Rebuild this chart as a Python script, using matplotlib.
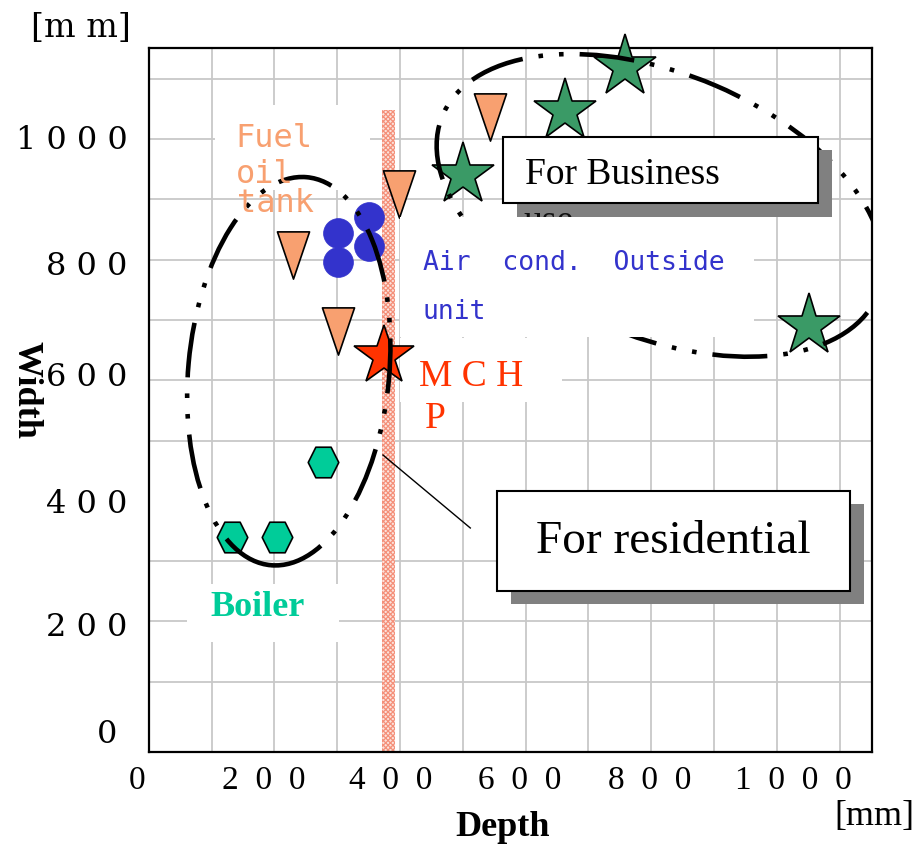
import matplotlib
matplotlib.use("Agg")
import matplotlib.pyplot as plt
from matplotlib.patches import Ellipse, Rectangle
from matplotlib.path import Path
import numpy as np

# ---------------- data (mm) ----------------
business_depth = [758, 662, 500, 1052]
business_width = [1119, 1047, 940, 690]

tank_depth = [544, 398, 229, 301]
tank_width = [1037, 909, 808, 681]

aircon_depth = [350, 301, 350, 302]
aircon_width = [871, 845, 822, 796]

mchp_depth = [375]
mchp_width = [641]

boiler_depth = [277, 132, 205]
boiler_width = [465, 340, 340]

x_tick_labels = ["0", "2  0  0", "4  0  0", "6  0  0", "8  0  0", "1  0  0  0"]
x_tick_pos = [-19, 183, 386, 591, 798, 1027]
y_tick_labels = ["0 ", "2 0 0", "4 0 0", "6 0 0", "8 0 0", "1 0 0 0"]
y_tick_pos = [18, 195, 400, 610, 795, 1004]

# hatched MCHP depth band
band_left, band_right, band_top = 372, 392, 1048

# ---------------- figure ----------------
W, H = 916, 847
fig = plt.figure(figsize=(W / 100, H / 100), dpi=100)
ax = fig.add_axes([148.7 / W, 1 - 751.7 / H, 723.6 / W, 703.7 / H])
ax.set_axisbelow(True)

ax.set_xticks(np.arange(100, 1200, 100), minor=True)
ax.set_yticks(np.arange(100, 1200, 100), minor=True)
ax.set_xticks([])
ax.set_yticks(y_tick_pos, y_tick_labels, fontfamily="DejaVu Serif", fontsize=23)
ax.grid(which="minor", color="#C8C8C8", lw=1.3)
ax.tick_params(which="both", length=0)
ax.tick_params(axis="y", pad=15)
ax.set_xlim(0, 1152)
ax.set_ylim(-16, 1151)
for s in ax.spines.values():
    s.set_linewidth(1.6)
    s.set_color("black")

# x tick labels (offset row as in the original)
for pos, lab in zip(x_tick_pos, x_tick_labels):
    ax.text(pos, -0.02, lab, transform=ax.get_xaxis_transform(), ha="center",
            va="top", fontfamily="Liberation Serif", fontsize=24, clip_on=False)

# white label backgrounds (erase grid)
def bg(x0, x1, y0, y1, z=1):
    ax.add_patch(Rectangle((x0, y0), x1 - x0, y1 - y0, facecolor="white",
                           edgecolor="none", zorder=z))

bg(105, 352, 915, 1056)          # fuel oil tank
bg(400, 658, 564, 670)           # MCHP
bg(61, 303, 166, 262)            # Boiler

# hatched band
plt.rcParams["hatch.linewidth"] = 0.9
ax.bar([band_left], [band_top + 16], width=band_right - band_left, bottom=-16,
       align="edge", facecolor="#FCE3DC", edgecolor="#F4907A", hatch="xxxxxxx",
       linewidth=0, zorder=1.2)
ax.set_xlim(0, 1152)
ax.set_ylim(-16, 1151)

# markers
tri = Path([(-0.68, 1), (0.68, 1), (0, -1), (-0.68, 1)], closed=True)
hexm = Path([(-1, 0), (-0.5, 1), (0.5, 1), (1, 0), (0.5, -1), (-0.5, -1), (-1, 0)], closed=True)

ax.plot(tank_depth, tank_width, ls="none", marker=tri, ms=34, mfc="#F8A070",
        mec="black", mew=1.2, zorder=3, clip_on=False)
ax.plot(aircon_depth, aircon_width, ls="none", marker="o", ms=21.5, mfc="#3333CC",
        mec="#3333CC", mew=0.5, zorder=3)
ax.plot(boiler_depth, boiler_width, ls="none", marker=hexm, ms=22, mfc="#00CC99",
        mec="black", mew=1.2, zorder=3)
ax.plot(business_depth, business_width, ls="none", marker="*", ms=47, mfc="#3A9A66",
        mec="black", mew=1.2, zorder=3, clip_on=False)
ax.plot(mchp_depth, mchp_width, ls="none", marker="*", ms=45, mfc="#FF3300",
        mec="black", mew=1.2, zorder=3)

# dash-dot-dot ellipses
dd = (0, (12, 3.5, 1, 3.5, 1, 3.5))
ax.add_patch(Ellipse((223, 615), 320, 646, angle=-5, fill=False, edgecolor="black",
                     lw=3.3, linestyle=dd, zorder=4))
ax.add_patch(Ellipse((814, 890), 754, 435, angle=-24, fill=False, edgecolor="black",
                     lw=3.3, linestyle=dd, zorder=4))

# air conditioner label background (over ellipse)
bg(400, 963, 672, 871, z=4.5)

# connector line
ax.plot([373, 512], [476, 355], color="black", lw=1.0, zorder=5)

# ---------- text boxes with shadow ----------
# For Business
shadow_b = Rectangle((586, 871), 502, 111, facecolor="#808080", edgecolor="none", zorder=6)
ax.add_patch(shadow_b)
ax.add_patch(Rectangle((564, 894), 502, 109, facecolor="white", edgecolor="black",
                       lw=1.5, zorder=6.5))
ax.text(599, 926, "For Business", fontfamily="Liberation Serif", fontsize=27,
        va="baseline", ha="left", zorder=7)
t_use = ax.text(596, 848, "use", fontfamily="Liberation Serif", fontsize=27,
                va="baseline", ha="left", zorder=6.2, color="#111111", clip_on=True)
t_use.set_clip_path(shadow_b)

# For residential
ax.add_patch(Rectangle((577, 229), 562, 166, facecolor="#808080", edgecolor="none", zorder=6))
ax.add_patch(Rectangle((555, 250), 562, 166, facecolor="white", edgecolor="black",
                       lw=1.5, zorder=6.5))
ax.text(617, 313, "For residential", fontfamily="Liberation Serif", fontsize=34,
        va="baseline", ha="left", zorder=7)

# ---------- category labels ----------
orange = "#F8A070"
ax.text(138, 987, "Fuel", fontfamily="DejaVu Sans Mono", fontsize=23, color=orange,
        va="baseline", zorder=7)
ax.text(138, 927, "oil", fontfamily="DejaVu Sans Mono", fontsize=23, color=orange,
        va="baseline", zorder=7)
ax.text(141, 879, "tank", fontfamily="DejaVu Sans Mono", fontsize=23, color=orange,
        va="baseline", zorder=7)

blue = "#3333CC"
ax.text(436, 783, "Air  cond.  Outside", fontfamily="DejaVu Sans Mono", fontsize=19,
        color=blue, va="baseline", zorder=7)
ax.text(436, 701, "unit", fontfamily="DejaVu Sans Mono", fontsize=19,
        color=blue, va="baseline", zorder=7)

red = "#FF3300"
ax.text(430, 590, "M C H", fontfamily="Liberation Serif", fontsize=27, color=red,
        va="baseline", zorder=7)
ax.text(440, 521, "P", fontfamily="Liberation Serif", fontsize=27, color=red,
        va="baseline", zorder=7)

ax.text(98, 209, "Boiler", fontfamily="Liberation Serif", fontsize=26, fontweight="bold",
        color="#00CC99", va="baseline", zorder=7)

# ---------- axis titles and units ----------
fig.text(503 / W, 1 - 827 / H, "Depth", fontfamily="Liberation Serif", fontsize=26,
         fontweight="bold", ha="center", va="center")
fig.text(26 / W, 1 - 390 / H, "Width", fontfamily="Liberation Serif", fontsize=26,
         fontweight="bold", ha="center", va="center", rotation=270)
fig.text(131 / W, 1 - 28 / H, "[m m]", fontfamily="DejaVu Serif", fontsize=24,
         ha="right", va="center")
fig.text(914 / W, 1 - 816 / H, "[mm]", fontfamily="Liberation Serif", fontsize=26,
         ha="right", va="center")

fig.savefig("out.png", dpi=100, facecolor="white")
